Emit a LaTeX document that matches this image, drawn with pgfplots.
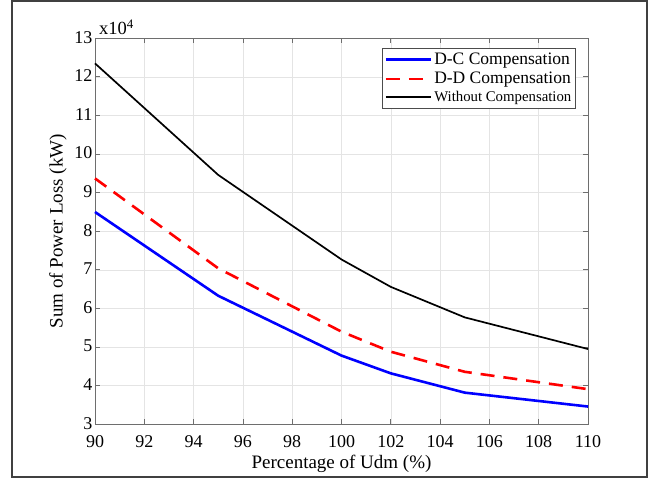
\documentclass[border=0pt]{standalone}
\usepackage{fontspec}
\setmainfont{Liberation Serif}
\usepackage{pgfplots}
\pgfplotsset{compat=1.18}

\definecolor{axgray}{RGB}{110,110,110}
\definecolor{gridgray}{RGB}{228,228,228}

\begin{document}
\begin{tikzpicture}[x=1pt,y=1pt]
\useasboundingbox (0,0) rectangle (649,479);
\draw[line width=1.4pt, black!75] (12,2) rectangle (647,478);
\begin{axis}[
    at={(95pt,54.7pt)}, anchor=south west,
    scale only axis, width=493pt, height=386pt,
    xmin=90, xmax=110, ymin=3, ymax=13,
    xtick={90,92,...,110}, ytick={3,4,...,13},
    clip=false,
    tick align=inside, major tick length=5pt,
    axis line style={axgray, line width=0.8pt},
    tick style={axgray, line width=0.8pt},
    grid=major, grid style={gridgray, line width=0.6pt},
    /pgf/number format/assume math mode=true,
    tick label style={font=\fontsize{18}{20}\selectfont},
    xticklabel style={yshift=-7.5pt},
    yticklabel style={xshift=1pt, yshift=1pt},
    label style={font=\fontsize{19}{21}\selectfont},
    xlabel={Percentage of Udm (\%)},
    ylabel={Sum of Power Loss (kW)},
    xlabel style={yshift=-1pt},
    ylabel style={yshift=1pt},
    legend style={at={(0.975,0.975)}, anchor=north east, draw=black!70,
        line width=0.6pt, font=\fontsize{17.5}{19}\selectfont,
        row sep=2pt, inner xsep=2pt, inner ysep=3pt},
    legend cell align=left,
    legend image code/.code={\draw[#1] (0pt,0pt) -- (45pt,0pt);},
]
\addplot[blue, line width=2.6pt] coordinates {
    (90,8.50) (95,6.33) (100,4.78) (102,4.32) (105,3.82) (110,3.46)};
\addlegendentry{D-C Compensation}
\addplot[red, line width=2.6pt, dash pattern=on 14pt off 9pt] coordinates {
    (90,9.37) (95,7.04) (100,5.40) (102,4.88) (105,4.36) (110,3.91)};
\addlegendentry{D-D Compensation}
\addplot[black, line width=1.7pt] coordinates {
    (90,12.35) (95,9.46) (100,7.27) (102,6.56) (105,5.77) (110,4.95)};
\addlegendentry{\fontsize{14.8}{16}\selectfont Without Compensation}
\node[anchor=south west, inner sep=0pt, font=\fontsize{18.5}{20}\selectfont]
    at (axis cs:90,13) [xshift=4pt, yshift=3pt] {x10\textsuperscript{4}};
\end{axis}
\end{tikzpicture}
\end{document}
